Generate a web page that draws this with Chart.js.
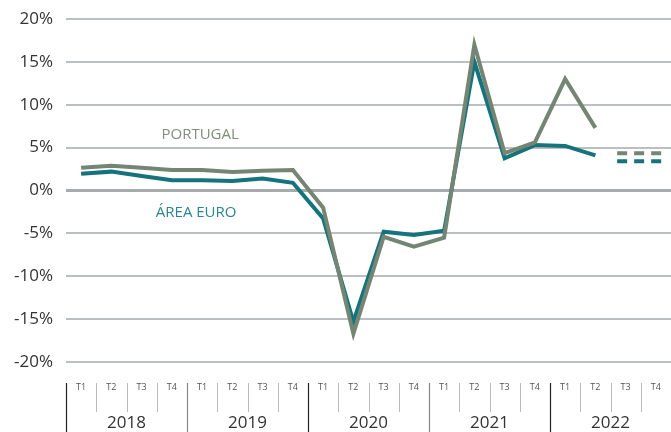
<!DOCTYPE html>
<html><head><meta charset="utf-8">
<script src="https://cdn.jsdelivr.net/npm/chart.js@4"></script>
<style>html,body{margin:0;padding:0;background:#fff}canvas{display:block}</style>
</head><body>
<canvas id="c" width="671" height="432"></canvas>
<script>
const years = ['2018','2019','2020','2021','2022'];
const quarters = ['T1','T2','T3','T4'];
const categories = years.flatMap(y => quarters.map(q => y + ' ' + q));
const portugal = [2.65,2.9,2.65,2.4, 2.4,2.15,2.3,2.4, -2.0,-16.7,-5.4,-6.55, -5.5,17.0,4.35,5.6, 13.0,7.3,null,null];
const areaEuro = [1.95,2.2,1.7,1.2, 1.2,1.1,1.4,0.9, -3.25,-15.3,-4.8,-5.2, -4.7,15.0,3.75,5.3, 5.2,4.1,null,null];
const portugalProj = [null,null,null,null, null,null,null,null, null,null,null,null, null,null,null,null, null,null,4.35,4.35];
const areaEuroProj = [null,null,null,null, null,null,null,null, null,null,null,null, null,null,null,null, null,null,3.4,3.4];
const yTicks = [-20,-15,-10,-5,0,5,10,15,20];

const PT = '#748673', EA = '#15737e';
const FONT = "'Open Sans', 'Noto Sans', sans-serif";

const extras = {
  id: 'extras',
  afterDatasetsDraw(chart) {
    const ctx = chart.ctx, x = chart.scales.x, y = chart.scales.y;
    const step = x.getPixelForValue(1) - x.getPixelForValue(0);
    // projections (dashed)
    [[2, PT], [3, EA]].forEach(([di, col]) => {
      const ds = chart.data.datasets[di].data;
      const idx = ds.map((v,i)=>v==null?null:i).filter(v=>v!=null);
      const i0 = idx[0], i1 = idx[idx.length-1];
      ctx.save();
      ctx.strokeStyle = col; ctx.lineWidth = 4; ctx.setLineDash([10,7]);
      ctx.beginPath();
      ctx.moveTo(x.getPixelForValue(i0) - step*0.28, y.getPixelForValue(ds[i0]));
      ctx.lineTo(x.getPixelForValue(i1) + step*0.22, y.getPixelForValue(ds[i1]));
      ctx.stroke(); ctx.restore();
    });
    // series labels
    ctx.save();
    ctx.font = "15px " + FONT; ctx.textAlign = 'center'; ctx.textBaseline = 'middle';
    ctx.fillStyle = '#7f8f7c';
    ctx.fillText('PORTUGAL', x.getPixelForValue(4) - 2, y.getPixelForValue(6.5));
    ctx.fillStyle = '#2b8590';
    ctx.fillText('ÁREA EURO', x.getPixelForValue(4) - 6, y.getPixelForValue(-2.6));
    ctx.restore();
  },
  afterDraw(chart) {
    const ctx = chart.ctx, x = chart.scales.x;
    const step = x.getPixelForValue(1) - x.getPixelForValue(0);
    const top = chart.chartArea.bottom + 21;
    ctx.save();
    for (let i = 0; i < categories.length; i++) {
      const xp = Math.round(x.getPixelForValue(i) - step/2) + 0.5;
      const yearStart = i % 4 === 0;
      ctx.strokeStyle = yearStart ? (i === 0 || i === 8 || i === 16 ? '#222' : '#888') : '#bbb';
      ctx.lineWidth = yearStart ? 1.2 : 1;
      ctx.beginPath();
      ctx.moveTo(xp, top);
      ctx.lineTo(xp, yearStart ? 432 : top + 29);
      ctx.stroke();
    }
    ctx.fillStyle = '#333'; ctx.font = "17px " + FONT;
    ctx.textAlign = 'center'; ctx.textBaseline = 'middle';
    years.forEach((yr, k) => {
      const cx = (x.getPixelForValue(k*4) + x.getPixelForValue(k*4+3)) / 2;
      ctx.fillText(yr, cx, 423);
    });
    ctx.restore();
  }
};

new Chart(document.getElementById('c'), {
  type: 'line',
  data: {
    labels: categories,
    datasets: [
      { label: 'Portugal', data: portugal, borderColor: PT, borderWidth: 4, pointRadius: 0, tension: 0, borderJoinStyle: 'miter' },
      { label: 'Área Euro', data: areaEuro, borderColor: EA, borderWidth: 4, pointRadius: 0, tension: 0, borderJoinStyle: 'miter' },
      { label: 'Portugal proj', data: portugalProj, borderColor: PT, showLine: false, pointRadius: 0 },
      { label: 'Área Euro proj', data: areaEuroProj, borderColor: EA, showLine: false, pointRadius: 0 }
    ]
  },
  options: {
    responsive: false, animation: false,
    layout: { padding: { top: 19, right: 0, left: 0, bottom: 0 } },
    plugins: { legend: { display: false }, tooltip: { enabled: false } },
    scales: {
      x: {
        offset: true,
        grid: { display: false, drawTicks: false },
        border: { display: false },
        ticks: {
          callback: (v, i) => quarters[i % 4],
          font: { size: 9, family: FONT }, color: '#555', padding: 20,
          maxRotation: 0, autoSkip: false
        },
        afterFit: s => { s.height = 70; s.paddingLeft = 0; s.paddingRight = 0; }
      },
      y: {
        min: -20, max: 20,
        afterBuildTicks: s => { s.ticks = yTicks.map(v => ({ value: v })); },
        grid: {
          drawTicks: false,
          color: c => c.tick && c.tick.value === 0 ? '#a8abae' : '#bcbfc2',
          lineWidth: c => c.tick && c.tick.value === 0 ? 3 : 2
        },
        border: { display: false },
        ticks: { callback: v => v + '%', font: { size: 17, family: FONT }, color: '#333', padding: 13 },
        afterFit: s => { s.width = 66; s.paddingTop = 0; s.paddingBottom = 0; }
      }
    }
  },
  plugins: [extras]
});
</script>
</body></html>
